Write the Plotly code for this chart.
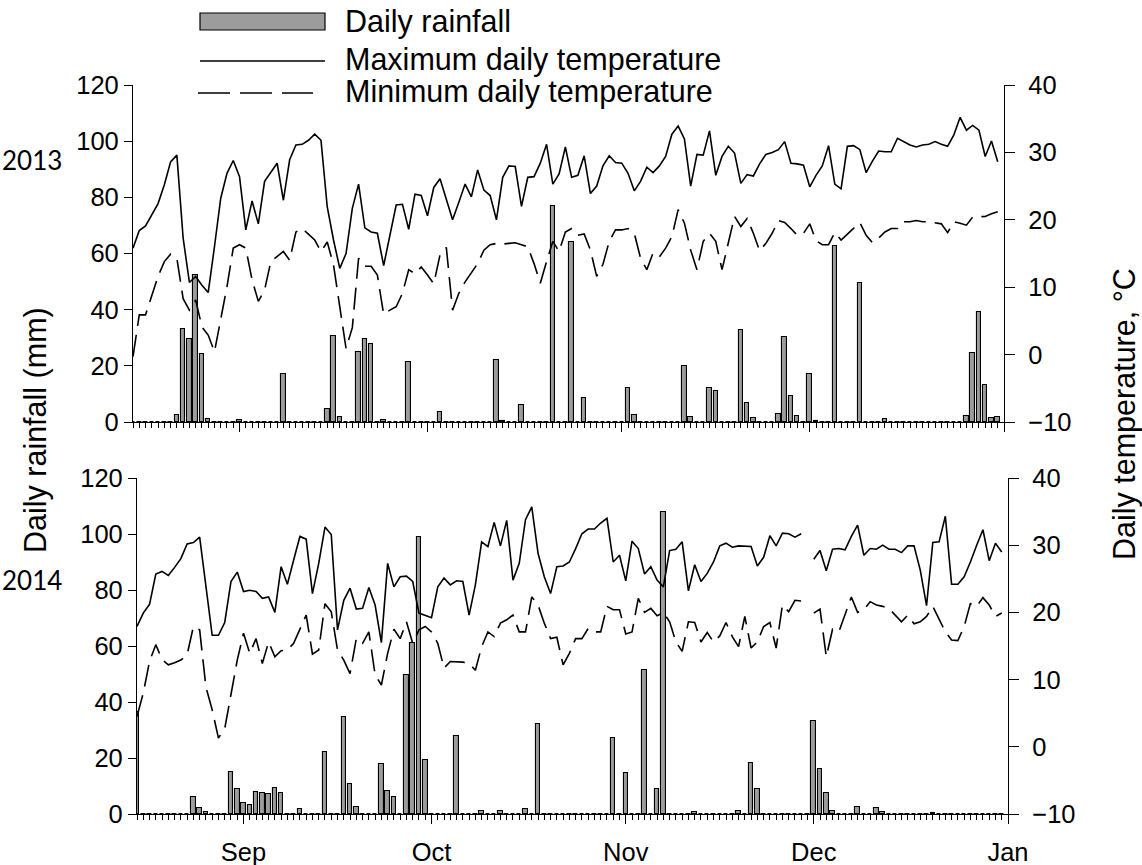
import pandas as pd
import plotly.graph_objects as go

# ---------------- data ----------------
start_2013 = "2013-08-15"
start_2014 = "2014-08-15"
n_days = 139
dates_2013 = pd.date_range(start_2013, periods=n_days, freq="D")
dates_2014 = pd.date_range(start_2014, periods=n_days, freq="D")

rain_2013 = [
    0, 0, 0, 0, 0, 0, 0, 2.5, 33, 29.4,
    52.3, 24.2, 1.2, 0, 0, 0, 0, 0.7, 0, 0,
    0, 0, 0, 0, 17.1, 0, 0, 0, 0, 0,
    0, 4.5, 30.6, 1.7, 0, 0, 24.8, 29.4, 27.7, 0,
    0.7, 0, 0, 0, 21.5, 0, 0, 0, 0, 3.4,
    0, 0, 0, 0, 0, 0, 0, 0, 22.1, 0.5,
    0, 0, 6.1, 0, 0, 0, 0, 77, 0, 0,
    64.2, 0, 8.4, 0, 0, 0, 0, 0, 0, 12.2,
    2.5, 0, 0, 0, 0, 0, 0, 0, 20.1, 1.9,
    0, 0, 12, 11, 0, 0, 0, 32.8, 6.6, 1.5,
    0, 0, 0, 2.7, 30.4, 9.3, 2.1, 0, 17.1, 0.5,
    0, 0, 62.7, 0, 0, 0, 49.4, 0, 0, 0,
    1.0, 0, 0, 0, 0, 0, 0, 0, 0, 0,
    0, 0, 0, 2.1, 24.5, 39.3, 13.2, 1.3, 1.9,
]
tmax_2013 = [
    15.8, 18.4, 19.1, 20.7, 22.4, 25.2, 28.6, 29.6, 17.3, 10.7,
    11.6, 10.3, 9.2, 16.0, 23.2, 26.9, 28.8, 26.4, 18.5, 22.8,
    19.4, 25.7, 27.1, 28.4, 22.9, 28.9, 31.1, 31.2, 31.8, 32.7,
    31.8, 21.9, 17.0, 12.8, 15.0, 21.7, 25.3, 18.8, 18.2, 18.0,
    13.2, 17.8, 22.2, 22.3, 18.6, 23.8, 23.6, 20.6, 24.8, 26.1,
    22.9, 20.0, 22.6, 25.3, 23.4, 27.4, 24.4, 23.6, 20.0, 26.3,
    28.0, 27.9, 22.0, 26.3, 26.4, 28.4, 31.2, 25.3, 26.8, 30.8,
    26.3, 26.6, 29.5, 23.9, 25.0, 28.0, 29.5, 28.5, 28.4, 26.9,
    24.3, 25.7, 27.8, 27.0, 28.0, 29.4, 32.7, 33.9, 32.0, 25.0,
    29.7, 29.6, 33.2, 26.6, 29.4, 30.9, 29.9, 25.4, 26.7, 26.5,
    28.3, 29.7, 30.0, 30.4, 31.6, 28.4, 28.3, 28.1, 24.9, 26.6,
    28.0, 31.0, 25.3, 24.6, 30.9, 31.0, 30.4, 27.0, 28.7, 30.2,
    30.1, 30.1, 32.1, 31.6, 31.1, 30.8, 31.1, 31.2, 31.6, 31.2,
    30.9, 32.6, 35.2, 33.3, 34.0, 33.3, 29.4, 31.7, 28.6,
]
tmin_2013 = [
    -0.3, 5.9, 5.9, 8.6, 11.6, 13.8, 14.9, 14.3, 8.3, 6.6,
    8.1, 4.1, 2.9, 0.4, 5.1, 10.1, 15.8, 16.3, 15.8, 11.1,
    7.9, 9.6, 13.8, 14.5, 15.3, 14.0, 18.2, 18.7, 17.9, 17.0,
    15.3, 16.7, 13.3, 7.1, 0.9, 4.0, 14.3, 13.1, 13.1, 11.8,
    6.0, 6.6, 7.1, 9.1, 12.6, 12.0, 13.0, 11.8, 10.5, 14.8,
    15.9, 6.6, 9.1, 10.8, 12.2, 13.5, 15.5, 16.3, 16.5, 16.4,
    16.5, 16.6, 16.3, 16.0, 13.5, 10.6, 13.8, 16.8, 15.3, 18.2,
    18.7, 17.7, 17.9, 15.5, 11.6, 13.4, 16.8, 18.5, 18.5, 18.7,
    18.0, 14.3, 12.6, 15.1, 14.5, 15.8, 17.5, 21.5, 19.5, 15.5,
    12.6, 16.8, 18.0, 16.8, 12.6, 16.8, 20.5, 19.0, 20.2, 18.0,
    15.4, 16.5, 18.0, 19.9, 19.6, 18.7, 17.7, 18.0, 19.4, 16.9,
    16.3, 16.3, 18.1, 17.0, 17.9, 18.7, 19.6, 17.7, 16.6, 17.3,
    18.2, 18.7, 18.7, 19.7, 19.7, 19.9, 19.7, 19.7, 19.6, 19.4,
    18.1, 19.7, 19.5, 19.2, 20.4, 20.5, 20.5, 20.9, 21.2,
]

rain_2014 = [
    36.5, 0, 0, 0, 0, 0, 0, 0, 0, 6.2,
    2.0, 0.6, 0, 0, 0, 15.1, 8.9, 4.0, 3.2, 8.0,
    7.6, 7.0, 9.2, 7.6, 0, 0, 1.8, 0, 0, 0,
    22.0, 0, 0, 34.8, 10.6, 2.6, 0, 0, 0, 17.7,
    8.3, 6.2, 0, 49.6, 61.2, 99.0, 19.3, 0, 0, 0,
    0, 28.0, 0, 0, 0, 1.2, 0, 0, 1.1, 0,
    0, 0, 1.8, 0, 32.1, 0, 0, 0, 0, 0,
    0, 0, 0, 0, 0, 0, 27.0, 0, 14.5, 0,
    0, 51.4, 0, 8.8, 108.0, 0, 0, 0, 0, 0.6,
    0, 0, 0, 0, 0, 0, 1.1, 0, 18.3, 8.9,
    0, 0, 0, 0, 0, 0, 0, 0, 33.3, 16.1,
    7.4, 1.1, 0, 0, 0, 2.4, 0, 0, 2.0, 0.6,
    0, 0, 0, 0, 0, 0, 0, 0.5, 0, 0,
    0, 0, 0, 0, 0, 0, 0, 0, 0,
]
tmax_2014 = [
    17.9, 19.9, 21.2, 25.7, 26.1, 25.5, 26.7, 28.0, 30.2, 30.4,
    31.2, 23.8, 16.6, 16.6, 18.5, 24.6, 26.0, 23.1, 23.3, 23.1,
    22.1, 22.3, 20.0, 26.8, 24.2, 27.8, 31.3, 30.9, 22.8, 27.3,
    32.7, 31.6, 17.4, 21.8, 23.6, 20.5, 20.6, 23.7, 21.1, 15.5,
    27.3, 23.8, 25.3, 25.4, 24.6, 19.9, 19.6, 19.2, 23.8, 25.1,
    24.1, 24.7, 24.6, 19.6, 24.1, 30.5, 29.8, 33.4, 29.9, 33.7,
    24.8, 27.3, 33.8, 35.7, 28.8, 25.3, 22.8, 26.8, 26.9, 27.5,
    29.5, 31.7, 32.4, 32.4, 33.3, 34.0, 27.5, 28.5, 24.7, 30.6,
    29.5, 25.7, 26.8, 24.8, 23.8, 29.2, 29.4, 30.5, 23.2, 27.1,
    24.6, 25.8, 27.5, 29.9, 30.3, 29.7, 29.9, 29.8, 29.8, 26.9,
    28.2, 31.4, 29.9, 31.8, 31.7, 31.2, 31.7, None, 27.9, 29.2,
    26.2, 29.4, 29.5, 29.3, 31.3, 33.0, 28.5, 29.5, 29.4, 30.0,
    29.4, 29.4, 28.9, 29.9, 29.9, 26.3, 21.0, 30.4, 30.5, 34.3,
    24.2, 24.2, 25.3, 27.5, 30.0, 32.3, 27.7, 30.3, 29.0,
]
tmin_2014 = [
    4.5, 8.0, 12.7, 15.2, 13.0, 12.2, 12.5, 12.9, 13.7, 17.9,
    17.4, 8.9, 5.5, 1.3, 2.7, 8.0, 12.9, 16.9, 13.9, 16.1,
    12.4, 15.6, 13.4, 14.3, 14.4, 15.4, 17.6, 19.6, 13.8, 14.4,
    21.3, 20.1, 14.4, 12.9, 10.9, 16.1, 15.4, 17.1, 10.7, 9.2,
    13.9, 17.5, 16.1, 18.6, 15.4, 17.4, 17.9, 17.1, 15.4, 11.7,
    12.7, 12.7, 12.6, 12.4, 11.4, 14.9, 17.1, 16.4, 18.4, 18.9,
    19.6, 17.1, 17.1, 22.3, 21.1, 18.4, 16.1, 16.3, 12.2, 13.9,
    16.1, 16.1, 17.6, 17.1, 17.1, 20.9, 20.4, 20.4, 16.8, 17.1,
    22.1, 20.0, 20.6, 19.5, 20.0, 18.6, 15.6, 14.2, 18.6, 18.5,
    15.6, 17.0, 15.6, 16.5, 18.5, 16.4, 14.9, 19.4, 14.7, 15.6,
    17.9, 18.5, 14.7, 21.1, 20.1, 21.8, 21.7, None, 19.9, 20.5,
    13.4, 17.5, 17.1, 19.6, 22.3, 20.0, 20.4, 21.6, 21.1, 20.9,
    20.6, 19.6, 18.6, 19.6, 18.3, 18.6, 19.4, 20.9, 18.9, 17.1,
    15.9, 15.8, 17.9, 21.3, 20.9, 22.2, 21.1, 19.4, 19.9,
]

# ---------------- style ----------------
W, H = 1142, 865
FONT = "Liberation Sans"
BAR_FILL = "#9c9c9c"
DAY_MS = 86400000
TMIN_DASH = "22px,9px"
TICK_SIZE = 25.5
LEGEND_SIZE = 30.5
TITLE_SIZE = 30.5


def fx(px):
    return px / W


def fy(py):
    return 1 - py / H


fig = go.Figure()

for dates, rain, tmax, tmin, xa, ya, ya2 in [
    (dates_2013, rain_2013, tmax_2013, tmin_2013, "x", "y", "y2"),
    (dates_2014, rain_2014, tmax_2014, tmin_2014, "x2", "y3", "y4"),
]:
    fig.add_trace(go.Bar(
        x=dates, y=rain, xaxis=xa, yaxis=ya, width=0.72 * DAY_MS,
        marker=dict(color=BAR_FILL, line=dict(color="black", width=1.1)),
        showlegend=False, name="Daily rainfall"))
    fig.add_trace(go.Scatter(
        x=dates, y=tmax, xaxis=xa, yaxis=ya2, mode="lines",
        line=dict(color="black", width=1.6), connectgaps=False,
        showlegend=False, name="Maximum daily temperature"))
    fig.add_trace(go.Scatter(
        x=dates, y=tmin, xaxis=xa, yaxis=ya2, mode="lines",
        line=dict(color="black", width=1.6, dash=TMIN_DASH), connectgaps=False,
        showlegend=False, name="Minimum daily temperature"))

tickfont = dict(family=FONT, size=TICK_SIZE, color="black")


def xaxis_cfg(domain, rng, tick0, labels, anchor):
    return dict(
        domain=domain, range=rng, type="date", anchor=anchor, automargin=False,
        showline=True, linecolor="black", linewidth=1.3,
        showgrid=False, zeroline=False,
        ticks="outside", ticklen=9, tickwidth=1.3, tickcolor="black",
        tick0=tick0, dtick="M1", tickformat="%b",
        showticklabels=labels, tickfont=tickfont, ticklabelstandoff=6,
        minor=dict(dtick=DAY_MS, tick0=rng[0], ticks="outside", ticklen=5,
                   tickwidth=1, tickcolor="black", showgrid=False),
    )


def yleft_cfg(domain, anchor):
    return dict(
        domain=domain, anchor=anchor, range=[0, 120], dtick=20, automargin=False,
        showline=True, linecolor="black", linewidth=1.3,
        showgrid=False, zeroline=False,
        ticks="outside", ticklen=8, tickwidth=1.3, tickcolor="black",
        tickfont=tickfont,
    )


def yright_cfg(over, anchor):
    return dict(
        overlaying=over, anchor=anchor, side="right", range=[-10, 40], dtick=10,
        automargin=False,
        showline=True, linecolor="black", linewidth=1.3,
        showgrid=False, zeroline=False,
        ticks="outside", ticklen=10, tickwidth=1.3, tickcolor="black",
        ticklabelstandoff=8, tickfont=tickfont,
    )


top_dom_x = [fx(133), fx(1004)]
bot_dom_x = [fx(137), fx(1008)]
top_dom_y = [fy(422), fy(85)]
bot_dom_y = [fy(814), fy(478)]

fig.update_layout(
    template="none",
    width=W, height=H, autosize=False,
    margin=dict(l=0, r=0, t=0, b=0, pad=0),
    paper_bgcolor="white", plot_bgcolor="white",
    showlegend=False, bargap=0,
    xaxis=xaxis_cfg(top_dom_x, ["2013-08-15", "2014-01-01"], "2013-09-01", False, "y"),
    yaxis=yleft_cfg(top_dom_y, "x"),
    yaxis2=yright_cfg("y", "x"),
    xaxis2=xaxis_cfg(bot_dom_x, ["2014-08-15", "2015-01-01"], "2014-09-01", True, "y3"),
    yaxis3=yleft_cfg(bot_dom_y, "x2"),
    yaxis4=yright_cfg("y3", "x2"),
)

# ---------------- manual legend ----------------
shapes = [
    dict(type="rect", xref="paper", yref="paper",
         x0=fx(200), x1=fx(325), y0=fy(30), y1=fy(13),
         fillcolor=BAR_FILL, line=dict(color="black", width=1.2)),
    dict(type="line", xref="paper", yref="paper",
         x0=fx(200), x1=fx(325), y0=fy(61), y1=fy(61),
         line=dict(color="black", width=1.6)),
    dict(type="line", xref="paper", yref="paper",
         x0=fx(198), x1=fx(313), y0=fy(93), y1=fy(93),
         line=dict(color="black", width=1.6, dash="32px,10px")),
]
fig.update_layout(shapes=shapes)

legend_texts = ["Daily rainfall", "Maximum daily temperature", "Minimum daily temperature"]
legend_ys = [21, 60, 92]
for txt, py in zip(legend_texts, legend_ys):
    fig.add_annotation(x=fx(343), y=fy(py), xref="paper", yref="paper",
                       text=txt, showarrow=False, xanchor="left", yanchor="middle",
                       font=dict(family=FONT, size=LEGEND_SIZE, color="black"))

# axis titles
fig.add_annotation(x=fx(35), y=fy(430), xref="paper", yref="paper",
                   text="Daily rainfall (mm)", showarrow=False, textangle=-90,
                   xanchor="center", yanchor="middle",
                   font=dict(family=FONT, size=TITLE_SIZE, color="black"))
fig.add_annotation(x=fx(1124), y=fy(414), xref="paper", yref="paper",
                   text="Daily temperature, \u00b0C", showarrow=False, textangle=-90,
                   xanchor="center", yanchor="middle",
                   font=dict(family=FONT, size=TITLE_SIZE, color="black"))

# year labels
for txt, py in [("2013", 160), ("2014", 580)]:
    fig.add_annotation(x=fx(0), y=fy(py), xref="paper", yref="paper",
                       text=txt, showarrow=False, xanchor="left", yanchor="middle",
                       font=dict(family="Lato", size=26, color="black"))

# place the figure at the page's top-left corner (no default body margin)
fig.write_html("out.html", config={"displayModeBar": False},
               post_script="document.body.style.margin='0px';")
